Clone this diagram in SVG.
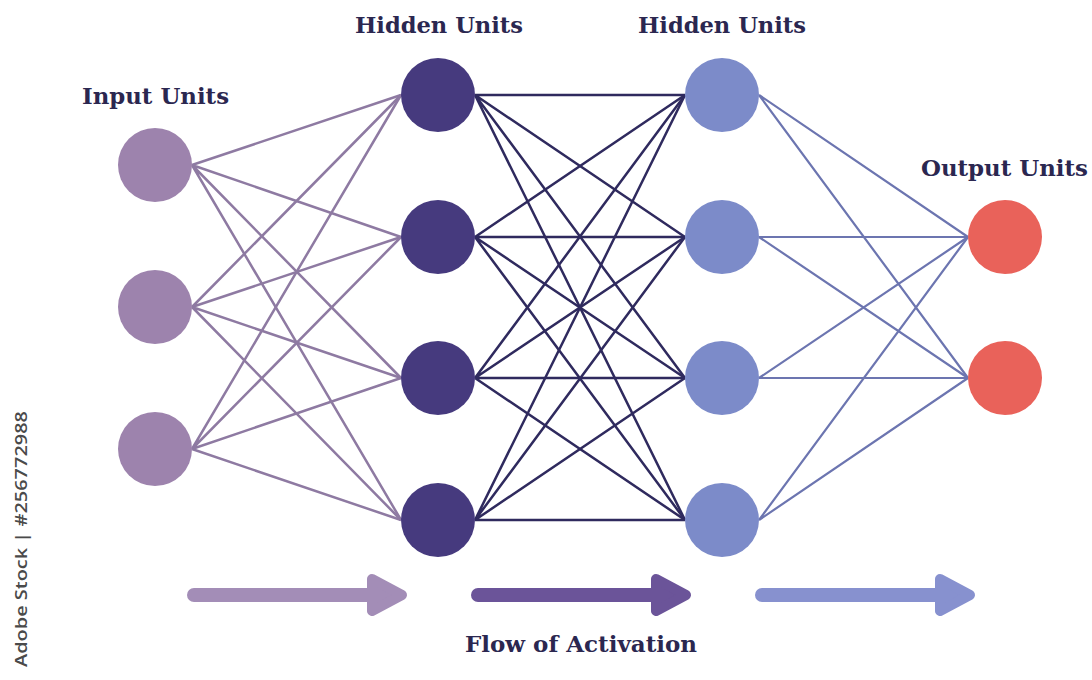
<svg xmlns="http://www.w3.org/2000/svg" width="1092" height="680" viewBox="0 0 1092 680">
<style>
.lbl{font-family:"DejaVu Serif","Liberation Serif",serif;font-weight:bold;fill:#2b2750;font-size:22px}
.c1{stroke:#8e7aa2;stroke-width:2.5;fill:none}
.c2{stroke:#2f2a5e;stroke-width:2.5;fill:none}
.c3{stroke:#6c75b0;stroke-width:2.2;fill:none}
.in{fill:#9d83ad}
.h1{fill:#463a7e}
.h2{fill:#7c8bc9}
.out{fill:#e9625a}
.wm{font-family:"Open Sans","DejaVu Sans",sans-serif;font-size:16px;font-weight:600;fill:#4a4a4a}
</style>
<rect width="1092" height="680" fill="#ffffff"/>
<g id="connectors">
<g class="c1">
<path d="M192 165L401 95M192 165L401 237M192 165L401 378M192 165L401 520"/>
<path d="M192 307L401 95M192 307L401 237M192 307L401 378M192 307L401 520"/>
<path d="M192 449L401 95M192 449L401 237M192 449L401 378M192 449L401 520"/>
</g>
<g class="c2">
<path d="M475 95L685 95M475 95L685 237M475 95L685 378M475 95L685 520"/>
<path d="M475 237L685 95M475 237L685 237M475 237L685 378M475 237L685 520"/>
<path d="M475 378L685 95M475 378L685 237M475 378L685 378M475 378L685 520"/>
<path d="M475 520L685 95M475 520L685 237M475 520L685 378M475 520L685 520"/>
</g>
<g class="c3">
<path d="M759 95L968 237M759 95L968 378"/>
<path d="M759 237L968 237M759 237L968 378"/>
<path d="M759 378L968 237M759 378L968 378"/>
<path d="M759 520L968 237M759 520L968 378"/>
</g>
</g>
<g id="input-units">
<text class="lbl" x="82" y="104" textLength="147" lengthAdjust="spacingAndGlyphs">Input Units</text>
<circle class="in" cx="155" cy="165" r="37"/>
<circle class="in" cx="155" cy="307" r="37"/>
<circle class="in" cx="155" cy="449" r="37"/>
</g>
<g id="hidden-units-1">
<text class="lbl" x="355" y="33" textLength="168" lengthAdjust="spacingAndGlyphs">Hidden Units</text>
<circle class="h1" cx="438" cy="95" r="37"/>
<circle class="h1" cx="438" cy="237" r="37"/>
<circle class="h1" cx="438" cy="378" r="37"/>
<circle class="h1" cx="438" cy="520" r="37"/>
</g>
<g id="hidden-units-2">
<text class="lbl" x="638" y="33" textLength="168" lengthAdjust="spacingAndGlyphs">Hidden Units</text>
<circle class="h2" cx="722" cy="95" r="37"/>
<circle class="h2" cx="722" cy="237" r="37"/>
<circle class="h2" cx="722" cy="378" r="37"/>
<circle class="h2" cx="722" cy="520" r="37"/>
</g>
<g id="output-units">
<text class="lbl" x="921" y="176" textLength="167" lengthAdjust="spacingAndGlyphs">Output Units</text>
<circle class="out" cx="1005" cy="237" r="37"/>
<circle class="out" cx="1005" cy="378" r="37"/>
</g>
<g id="flow-arrows">
<g fill="#a38db7" stroke="#a38db7" stroke-linejoin="round" stroke-linecap="round">
<path d="M194 595H378" stroke-width="14" fill="none"/>
<polygon points="372,579 402,595 372,611" stroke-width="10"/>
</g>
<g fill="#6b5499" stroke="#6b5499" stroke-linejoin="round" stroke-linecap="round">
<path d="M478 595H662" stroke-width="14" fill="none"/>
<polygon points="656,579 686,595 656,611" stroke-width="10"/>
</g>
<g fill="#8791cf" stroke="#8791cf" stroke-linejoin="round" stroke-linecap="round">
<path d="M762 595H946" stroke-width="14" fill="none"/>
<polygon points="940,579 970,595 940,611" stroke-width="10"/>
</g>
<text class="lbl" x="465" y="652" textLength="232" lengthAdjust="spacingAndGlyphs">Flow of Activation</text>
</g>
<text class="wm" transform="translate(27 667) rotate(-90)" textLength="256" lengthAdjust="spacingAndGlyphs">Adobe Stock | #256772988</text>
</svg>
